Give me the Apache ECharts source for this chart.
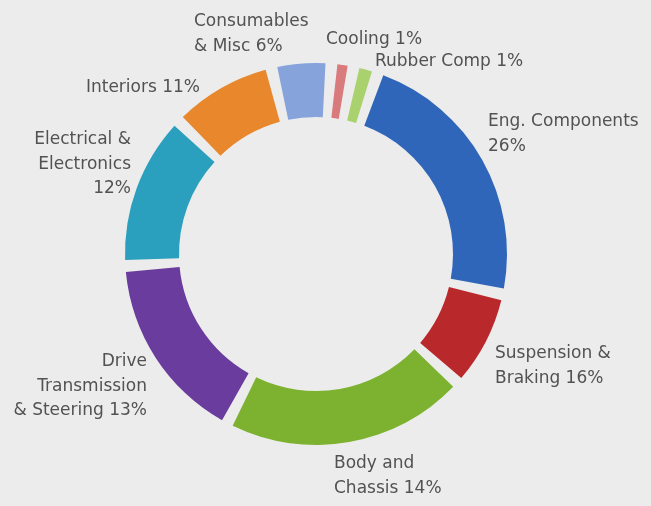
<!DOCTYPE html>
<html>
<head>
<meta charset="utf-8">
<script src="https://cdn.jsdelivr.net/npm/echarts@6/dist/echarts.min.js"></script>
<style>
html,body{margin:0;padding:0;background:#ececec;}
#chart{width:651px;height:506px;}
</style>
</head>
<body>
<div id="chart"></div>
<script>
// Categories in clockwise order starting just left of 12 o'clock
const categories = ['Consumables & Misc', 'Cooling', 'Rubber Comp', 'Eng. Components', 'Suspension & Braking', 'Body and Chassis', 'Drive Transmission & Steering', 'Electrical & Electronics', 'Interiors'];
// Printed percentages (label text)
const labelPct = [6, 1, 1, 26, 16, 14, 13, 12, 11];
const arcShare = [5.04, 1.86, 2.08, 23.15, 8.36, 20.94, 16.31, 13.22, 9.03];
// Label text lines
const labelLines = [
  ['Consumables', '& Misc 6%'],
  ['Cooling 1%'],
  ['Rubber Comp 1%'],
  ['Eng. Components', '26%'],
  ['Suspension &', 'Braking 16%'],
  ['Body and', 'Chassis 14%'],
  ['Drive', 'Transmission', '& Steering 13%'],
  ['Electrical &', 'Electronics', '12%'],
  ['Interiors 11%']
];
const colors = ['#87a3dc', '#d97a7d', '#a9d26f', '#2f66b9', '#b9292b', '#7db231', '#6a3c9d', '#2b9fbe', '#e8872b'];

// label layout (anchor x, first-line centre y, alignment)
const LH = 24.5;
const labelPos = [
  [194, 22, 'left'], [326, 40, 'left'], [375, 62, 'left'], [488, 122, 'left'],
  [495, 354, 'left'], [334, 464, 'left'], [147, 362, 'right'], [131, 140, 'right'], [200, 88, 'right']
];

const chart = echarts.init(document.getElementById('chart'), null, {renderer: 'canvas'});
chart.setOption({
  backgroundColor: '#ececec',
  animation: false,
  series: [{
    type: 'pie',
    center: [316, 254],
    radius: [137, 191],
    startAngle: 103.5,
    clockwise: true,
    padAngle: 3.6,
    avoidLabelOverlap: false,
    itemStyle: {borderWidth: 0},
    label: {
      show: true,
      position: 'outside',
      fontFamily: 'DejaVu Sans',
      fontSize: 17,
      color: '#525252',
      lineHeight: LH,
      formatter: p => labelLines[p.dataIndex].join('\n')
    },
    labelLine: {show: false},
    labelLayout: function (p) {
      const pos = labelPos[p.dataIndex];
      return {x: pos[0], y: pos[1] - LH / 2, align: pos[2], verticalAlign: 'top'};
    },
    emphasis: {disabled: true},
    data: categories.map((c, i) => ({
      name: c,
      value: arcShare[i],
      pct: labelPct[i],
      itemStyle: {color: colors[i]}
    }))
  }]
});
</script>
</body>
</html>
